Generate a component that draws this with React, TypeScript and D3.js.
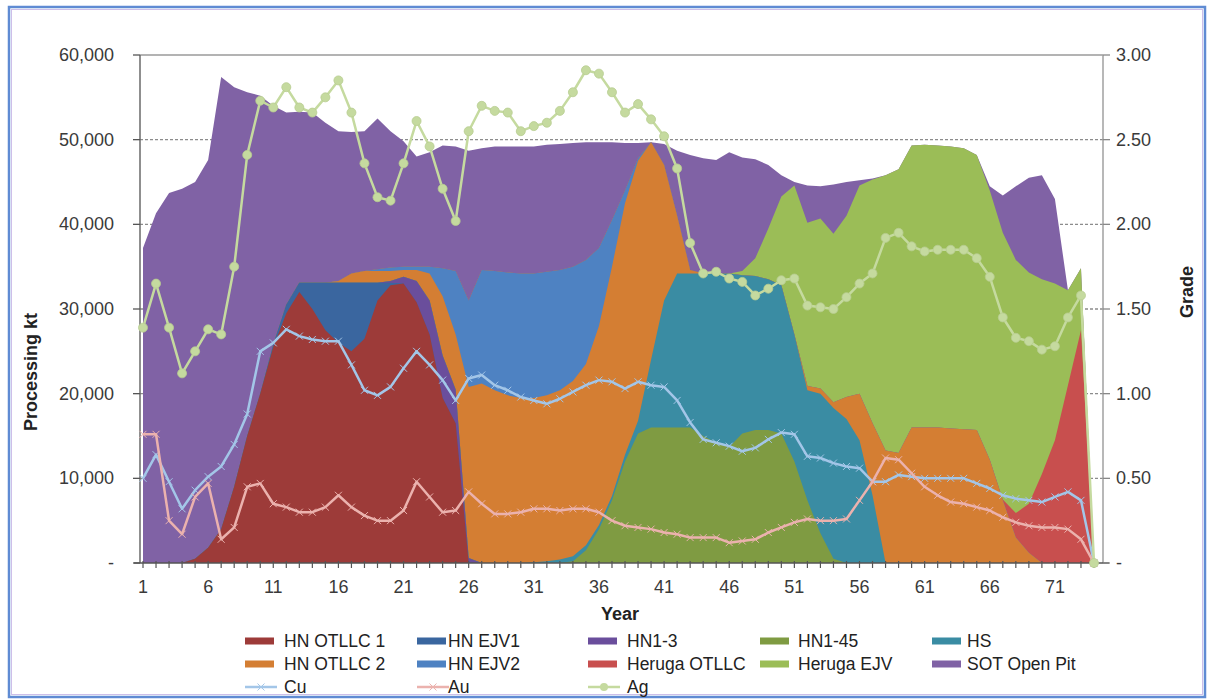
import React from 'react';
import * as d3 from 'd3';

// processing by source, thousand kt per year (years 1..74)
const years = d3.range(1, 75);

const hnOtllc1 = [
  0, 0, 0, 0, 0.5, 1.8, 4, 9, 15, 20,
  25.5, 29.5, 32, 30, 27.5, 26, 25, 26.5, 31, 32.8,
  33, 30.8, 27, 19.5, 16.5, 0, 0, 0, 0, 0,
  0, 0, 0, 0, 0, 0, 0, 0, 0, 0,
  0, 0, 0, 0, 0, 0, 0, 0, 0, 0,
  0, 0, 0, 0, 0, 0, 0, 0, 0, 0,
  0, 0, 0, 0, 0, 0, 0, 0, 0, 0,
  0, 0, 0, 0,
];
const hnEjv1 = [
  0, 0, 0, 0, 0, 0, 0, 0, 0, 0,
  0.3, 1, 1.1, 3.1, 5.6, 7.1, 8.1, 6.6, 2.1, 0.3,
  0, 0, 0, 0, 0, 0, 0, 0, 0, 0,
  0, 0, 0, 0, 0, 0, 0, 0, 0, 0,
  0, 0, 0, 0, 0, 0, 0, 0, 0, 0,
  0, 0, 0, 0, 0, 0, 0, 0, 0, 0,
  0, 0, 0, 0, 0, 0, 0, 0, 0, 0,
  0, 0, 0, 0,
];
const hn13 = [
  0, 0, 0, 0, 0, 0, 0, 0, 0, 0,
  0, 0, 0, 0, 0, 0, 0, 0, 0, 0.2,
  0.8, 2.5, 4, 5, 4, 0.6, 0, 0, 0, 0,
  0, 0, 0, 0, 0, 0, 0, 0, 0, 0,
  0, 0, 0, 0, 0, 0, 0, 0, 0, 0,
  0, 0, 0, 0, 0, 0, 0, 0, 0, 0,
  0, 0, 0, 0, 0, 0, 0, 0, 0, 0,
  0, 0, 0, 0,
];
const hn145 = [
  0, 0, 0, 0, 0, 0, 0, 0, 0, 0,
  0, 0, 0, 0, 0, 0, 0, 0, 0, 0,
  0, 0, 0, 0, 0, 0, 0, 0, 0, 0,
  0, 0, 0, 0.2, 1.5, 4, 7.4, 12, 15.3, 16,
  16, 16, 16, 15, 14.2, 13.7, 15.3, 15.7, 15.7, 15.3,
  12, 7.4, 3.5, 0.5, 0, 0, 0, 0, 0, 0,
  0, 0, 0, 0, 0, 0, 0, 0, 0, 0,
  0, 0, 0, 0,
];
const hs = [
  0, 0, 0, 0, 0, 0, 0, 0, 0, 0,
  0, 0, 0, 0, 0, 0, 0, 0, 0, 0,
  0, 0, 0, 0, 0, 0, 0, 0, 0, 0,
  0.1, 0.2, 0.4, 0.6, 0.6, 0.5, 0.5, 0.8, 1.5, 8,
  15, 18.2, 18.2, 19.2, 20, 20.5, 18.7, 18.2, 17.8, 17.5,
  15, 13, 16.5, 17.8, 17, 14.5, 8, 0, 0, 0,
  0, 0, 0, 0, 0, 0, 0, 0, 0, 0,
  0, 0, 0, 0,
];
const hnOtllc2 = [
  0, 0, 0, 0, 0, 0, 0, 0, 0, 0,
  0, 0, 0, 0, 0, 0.2, 1.1, 1.4, 1.4, 1.2,
  0.8, 1.3, 3.2, 7, 6.5, 20.2, 21.2, 20.4, 19.8, 19.5,
  19.4, 19.6, 20, 20.7, 21.4, 23.5, 27.1, 29.7, 30.7, 25.7,
  16, 6.8, 0.4, 0, 0, 0, 0, 0, 0, 0,
  0, 0.5, 0.6, 0.7, 2.6, 5.5, 8.5, 13.3, 13, 16,
  16, 16, 15.9, 15.8, 15.7, 12.2, 7.4, 3, 1.2, 0,
  0, 0, 0, 0,
];
const hnEjv2 = [
  0, 0, 0, 0, 0, 0, 0, 0, 0, 0,
  0, 0, 0, 0, 0, 0, 0, 0, 0.2, 0.4,
  0.4, 0.4, 0.8, 3.3, 7.5, 10.2, 13.4, 14.1, 14.5, 14.7,
  14.7, 14.6, 14.2, 13.5, 12.3, 9.2, 5.5, 1.5, 0.3, 0,
  0, 0, 0, 0, 0, 0, 0, 0, 0, 0,
  0, 0, 0, 0, 0, 0, 0, 0, 0, 0,
  0, 0, 0, 0, 0, 0, 0, 0, 0, 0,
  0, 0, 0, 0,
];
const herugaOtllc = [
  0, 0, 0, 0, 0, 0, 0, 0, 0, 0,
  0, 0, 0, 0, 0, 0, 0, 0, 0, 0,
  0, 0, 0, 0, 0, 0, 0, 0, 0, 0,
  0, 0, 0, 0, 0, 0, 0, 0, 0, 0,
  0, 0, 0, 0, 0, 0, 0, 0, 0, 0,
  0, 0, 0, 0, 0, 0, 0, 0, 0, 0,
  0, 0, 0, 0, 0, 0, 0.1, 2.9, 5.8, 10.5,
  14.5, 21, 27.5, 0,
];
const herugaEjv = [
  0, 0, 0, 0, 0, 0, 0, 0, 0, 0,
  0, 0, 0, 0, 0, 0, 0, 0, 0, 0,
  0, 0, 0, 0, 0, 0, 0, 0, 0, 0,
  0, 0, 0, 0, 0, 0, 0, 0, 0, 0,
  0, 0, 0, 0, 0, 0, 0.5, 2.1, 6, 10.5,
  17.6, 19.3, 20.1, 19.9, 21.4, 24.6, 28.8, 32.5, 33.5, 33.3,
  33.4, 33.3, 33.3, 33.2, 32.5, 31.8, 31.5, 29.9, 27.3, 23,
  18.5, 11.2, 7.3, 0,
];
const sotOpenPit = [
  37.2, 41.3, 43.7, 44.2, 44.5, 45.8, 53.4, 47.2, 40.6, 35.2,
  28.2, 22.7, 20.2, 20.1, 18.9, 17.7, 16.7, 16.5, 17.8, 16.1,
  14.8, 13, 13.5, 14.5, 14.7, 17.7, 14.4, 14.7, 14.9, 15,
  15, 15, 14.9, 14.6, 13.9, 12.5, 9.2, 5.6, 1.8, 0,
  2.5, 7.7, 13.6, 13.6, 13.4, 14.3, 13.4, 11.7, 7.5, 2.5,
  0.4, 4.4, 3.8, 5.8, 4, 0.6, 0.1, 0, 0, 0,
  0, 0, 0, 0, 0, 0.5, 4.4, 8.7, 11.2, 12.3,
  10, 0, 0, 0,
];

// grades (right axis)
const cu = [
  0.50, 0.64, 0.48, 0.32, 0.43, 0.51, 0.57, 0.70, 0.88, 1.25,
  1.30, 1.38, 1.34, 1.32, 1.31, 1.31, 1.17, 1.02, 0.99, 1.04,
  1.15, 1.25, 1.17, 1.08, 0.96, 1.09, 1.11, 1.05, 1.02, 0.98,
  0.96, 0.94, 0.97, 1.01, 1.05, 1.08, 1.07, 1.03, 1.07, 1.05,
  1.04, 0.96, 0.83, 0.73, 0.71, 0.69, 0.66, 0.68, 0.73, 0.77,
  0.76, 0.63, 0.62, 0.59, 0.57, 0.56, 0.48, 0.48, 0.52, 0.51,
  0.50, 0.50, 0.50, 0.50, 0.47, 0.44, 0.40, 0.38, 0.37, 0.36,
  0.39, 0.42, 0.37, 0,
];
const au = [
  0.76, 0.76, 0.25, 0.17, 0.39, 0.47, 0.14, 0.21, 0.45, 0.47,
  0.35, 0.33, 0.30, 0.30, 0.33, 0.40, 0.33, 0.28, 0.25, 0.25,
  0.31, 0.48, 0.39, 0.30, 0.31, 0.42, 0.35, 0.29, 0.29, 0.30,
  0.32, 0.32, 0.31, 0.32, 0.32, 0.30, 0.25, 0.22, 0.21, 0.20,
  0.18, 0.17, 0.15, 0.15, 0.15, 0.12, 0.13, 0.14, 0.18, 0.21,
  0.24, 0.26, 0.25, 0.25, 0.26, 0.37, 0.48, 0.62, 0.61, 0.53,
  0.45, 0.40, 0.36, 0.35, 0.33, 0.31, 0.27, 0.24, 0.22, 0.21,
  0.21, 0.20, 0.14, 0,
];
const ag = [
  1.39, 1.65, 1.39, 1.12, 1.25, 1.38, 1.35, 1.75, 2.41, 2.73,
  2.69, 2.81, 2.69, 2.66, 2.75, 2.85, 2.66, 2.36, 2.16, 2.14,
  2.36, 2.61, 2.46, 2.21, 2.02, 2.55, 2.70, 2.67, 2.66, 2.55,
  2.58, 2.60, 2.67, 2.78, 2.91, 2.89, 2.78, 2.66, 2.71, 2.62,
  2.52, 2.33, 1.89, 1.71, 1.72, 1.68, 1.66, 1.58, 1.62, 1.67,
  1.68, 1.52, 1.51, 1.50, 1.57, 1.65, 1.71, 1.92, 1.95, 1.87,
  1.84, 1.85, 1.85, 1.85, 1.80, 1.69, 1.45, 1.33, 1.31, 1.26,
  1.28, 1.45, 1.58, 0,
];

const leftTicks = [0, 10, 20, 30, 40, 50, 60];
const rightTicks = [0, 0.5, 1, 1.5, 2, 2.5, 3];
const xLabels = [1, 6, 11, 16, 21, 26, 31, 36, 41, 46, 51, 56, 61, 66, 71];

const areaSeries = [
  { name: 'HN OTLLC 1', values: hnOtllc1, color: '#9d3b39' },
  { name: 'HN EJV1', values: hnEjv1, color: '#3a669f' },
  { name: 'HN1-3', values: hn13, color: '#6a4e9c' },
  { name: 'HN1-45', values: hn145, color: '#7f9b42' },
  { name: 'HS', values: hs, color: '#3a8ca3' },
  { name: 'HN OTLLC 2', values: hnOtllc2, color: '#d47e33' },
  { name: 'HN EJV2', values: hnEjv2, color: '#4e82c2' },
  { name: 'Heruga OTLLC', values: herugaOtllc, color: '#c84f4e' },
  { name: 'Heruga EJV', values: herugaEjv, color: '#9bbd57' },
  { name: 'SOT Open Pit', values: sotOpenPit, color: '#8062a5' },
];
const lineSeries = [
  { name: 'Cu', values: cu, color: '#a3c6e8', marker: 'x' },
  { name: 'Au', values: au, color: '#ebb2ae', marker: 'x' },
  { name: 'Ag', values: ag, color: '#c5da9f', marker: 'o' },
];

const W = 1212;
const H = 700;
const left = 140;
const right = 1103;
const top = 55;
const bottom = 563;
const font = '"Liberation Sans", Arial, sans-serif';

const legendCols = [
  { sx: 245, tx: 284 },
  { sx: 417, tx: 448 },
  { sx: 588, tx: 627 },
  { sx: 760, tx: 798 },
  { sx: 932, tx: 967 },
];
const legendRows = [641, 664, 687];

const xMark = (cx: number, cy: number, s: number, color: string, key: string) => (
  <g key={key} stroke={color} strokeWidth={1}>
    <line x1={cx - s} y1={cy - s} x2={cx + s} y2={cy + s} />
    <line x1={cx - s} y1={cy + s} x2={cx + s} y2={cy - s} />
  </g>
);

export default function App() {
  const x = d3.scaleLinear().domain([1, 74]).range([143, 1094]);
  const y = d3.scaleLinear().domain([0, 60]).range([bottom, top]);
  const yR = d3.scaleLinear().domain([0, 3]).range([bottom, top]);

  const rows = years.map((yr, i) => {
    const r: any = { year: yr };
    areaSeries.forEach(s => (r[s.name] = s.values[i]));
    return r;
  });
  const stacked = d3.stack<any>().keys(areaSeries.map(s => s.name))(rows);

  // paint cumulative areas from the top layer down, so no seams show
  const area = d3
    .area<any>()
    .x(d => x(d.data.year))
    .y0(y(0))
    .y1(d => y(d[1]));

  const line = d3
    .line<number>()
    .x((_, i) => x(years[i]))
    .y(d => yR(d));

  const fmtL = (v: number) => (v === 0 ? '-' : d3.format(',')(v * 1000));
  const fmtR = (v: number) => (v === 0 ? '-' : d3.format('.2f')(v));

  const legendItems = [...areaSeries.map(s => ({ ...s, kind: 'area' })), ...lineSeries.map(s => ({ ...s, kind: 'line' }))];

  return (
    <div style={{ position: 'absolute', left: 0, top: 0 }}>
      <svg width={W} height={H} style={{ display: 'block', background: '#fff' }}>
        <rect x={9} y={7} width={1196} height={690} fill="none" stroke="#5f8bd3" strokeWidth={2.5} />
        <rect x={11.5} y={9.5} width={1191} height={685} fill="none" stroke="#cdbfe9" strokeWidth={1} />

        {leftTicks.slice(1).map(t => (
          <line
            key={'g' + t}
            x1={left}
            x2={right}
            y1={y(t)}
            y2={y(t)}
            stroke={t === 60 ? '#9a9a9a' : '#8c8c8c'}
            strokeWidth={1.3}
            strokeDasharray={t === 60 ? undefined : '3,2'}
          />
        ))}

        {stacked
          .slice()
          .reverse()
          .map((layer, i) => {
            const s = areaSeries[areaSeries.length - 1 - i];
            return <path key={s.name} d={area(layer) || ''} fill={s.color} />;
          })}

        {/* axes */}
        <line x1={left} x2={left} y1={top} y2={bottom} stroke="#6a6a6a" strokeWidth={1.5} />
        <line x1={right} x2={right} y1={top} y2={bottom} stroke="#a0a0a0" strokeWidth={1.5} />
        <line x1={left - 6} x2={right + 6} y1={bottom} y2={bottom} stroke="#555" strokeWidth={1.5} />
        {leftTicks.map(t => (
          <g key={'lt' + t}>
            <line x1={left - 7} x2={left} y1={y(t)} y2={y(t)} stroke="#555" strokeWidth={1.3} />
            <text x={114} y={y(t) + 6} textAnchor="end" fontFamily={font} fontSize={18} fill="#3a3a3a">
              {fmtL(t)}
            </text>
          </g>
        ))}
        {rightTicks.map(t => (
          <g key={'rt' + t}>
            <line x1={right} x2={right + 7} y1={yR(t)} y2={yR(t)} stroke="#888" strokeWidth={1.3} />
            <text x={1116} y={yR(t) + 6} fontFamily={font} fontSize={18} fill="#3a3a3a">
              {fmtR(t)}
            </text>
          </g>
        ))}
        {years.map(yr => (
          <line key={'xt' + yr} x1={x(yr)} x2={x(yr)} y1={bottom - 2} y2={bottom + 5} stroke="#555" strokeWidth={1.2} />
        ))}
        {xLabels.map(yr => (
          <text key={'xl' + yr} x={x(yr)} y={593} textAnchor="middle" fontFamily={font} fontSize={18} fill="#3a3a3a">
            {yr}
          </text>
        ))}

        {/* grade lines */}
        {lineSeries.map(s => (
          <g key={s.name}>
            <path d={line(s.values) || ''} fill="none" stroke={s.color} strokeWidth={2.5} strokeLinejoin="round" />
            {s.values.map((v, i) =>
              s.marker === 'o' ? (
                <circle key={i} cx={x(years[i])} cy={yR(v)} r={4.5} fill={s.color} stroke="#b7cd90" strokeWidth={0.8} />
              ) : (
                xMark(x(years[i]), yR(v), 3.5, s.color, 'm' + i)
              )
            )}
          </g>
        ))}

        {/* titles */}
        <text
          transform="translate(37,372) rotate(-90)"
          textAnchor="middle"
          fontFamily={font}
          fontSize={18}
          fontWeight="bold"
          fill="#222"
        >
          Processing kt
        </text>
        <text
          transform="translate(1193,292) rotate(-90)"
          textAnchor="middle"
          fontFamily={font}
          fontSize={18}
          fontWeight="bold"
          fill="#222"
        >
          Grade
        </text>
        <text x={620} y={620} textAnchor="middle" fontFamily={font} fontSize={18} fontWeight="bold" fill="#222">
          Year
        </text>

        {/* legend */}
        {legendItems.map((s, i) => {
          const col = legendCols[i % 5];
          const cy = legendRows[Math.floor(i / 5)];
          return (
            <g key={'lg' + s.name}>
              {s.kind === 'area' ? (
                <rect x={col.sx} y={cy - 3.5} width={29} height={7} fill={s.color} />
              ) : (
                <g>
                  <line x1={col.sx} x2={col.sx + 32} y1={cy} y2={cy} stroke={s.color} strokeWidth={2.5} />
                  {(s as any).marker === 'o' ? (
                    <circle cx={col.sx + 16} cy={cy} r={4} fill={s.color} />
                  ) : (
                    xMark(col.sx + 16, cy, 3.5, s.color, 'lm')
                  )}
                </g>
              )}
              <text x={col.tx} y={cy + 6} fontFamily={font} fontSize={17.5} fill="#222">
                {s.name}
              </text>
            </g>
          );
        })}
      </svg>
    </div>
  );
}
